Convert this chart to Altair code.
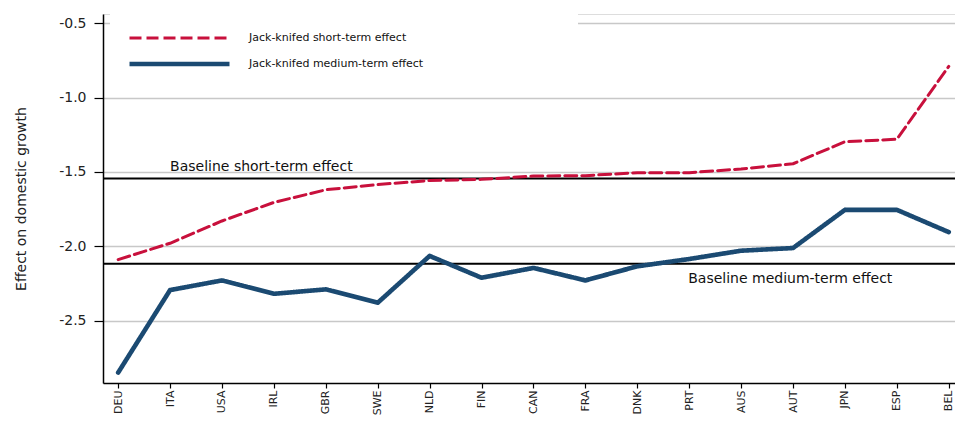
import altair as alt
import pandas as pd

countries = ["DEU", "ITA", "USA", "IRL", "GBR", "SWE", "NLD", "FIN", "CAN",
             "FRA", "DNK", "PRT", "AUS", "AUT", "JPN", "ESP", "BEL"]
short_term = [-2.09, -1.98, -1.83, -1.705, -1.62, -1.585, -1.558, -1.55, -1.528,
              -1.525, -1.505, -1.505, -1.48, -1.445, -1.297, -1.28, -0.79]
medium_term = [-2.85, -2.295, -2.23, -2.32, -2.29, -2.38, -2.065, -2.212, -2.146,
               -2.23, -2.135, -2.086, -2.03, -2.012, -1.755, -1.755, -1.905]
series_names = ["Jack-knifed short-term effect", "Jack-knifed medium-term effect"]
baseline_values = [-1.545, -2.117]
baseline_labels = ["Baseline short-term effect", "Baseline medium-term effect"]
baseline_label_at = [1, 11]  # index of country where each label starts
y_ticks = [-0.5, -1.0, -1.5, -2.0, -2.5]

RED = "#c8103c"
BLUE = "#1b4a72"
FONT = "DejaVu Sans"

rows = []
for i, c in enumerate(countries):
    rows.append({"idx": i, "country": c, "series": series_names[0], "value": short_term[i]})
    rows.append({"idx": i, "country": c, "series": series_names[1], "value": medium_term[i]})
df = pd.DataFrame(rows)

base_short = pd.DataFrame({"y": [baseline_values[0]], "x": [baseline_label_at[0]],
                           "label": [baseline_labels[0]]})
base_medium = pd.DataFrame({"y": [baseline_values[1]], "x": [baseline_label_at[1]],
                            "label": [baseline_labels[1]]})

js_countries = "[" + ",".join("'" + c + "'" for c in countries) + "]"

x_scale = alt.Scale(domain=[-0.292, 16.12], nice=False, zero=False)
y_scale = alt.Scale(domain=[-2.92, -0.4376], nice=False, zero=False)

x_axis = alt.Axis(values=list(range(len(countries))), labelExpr=js_countries + "[datum.value]",
                  labelAngle=270, labelFont=FONT, labelFontSize=11, labelColor="#222",
                  tickSize=5, tickColor="black", tickWidth=1.2, labelPadding=2,
                  domainColor="black", domainWidth=1.5, grid=False, title=None)
y_axis = alt.Axis(values=y_ticks, labelExpr="replace(format(datum.value, '.1f'), '\u2212', '-')",
                  labelFont=FONT, labelFontSize=14, labelColor="#222",
                  tickSize=9, tickColor="black", tickWidth=1.2, labelPadding=8,
                  domainColor="black", domainWidth=1.5,
                  grid=True, gridColor="#c8c8c8", gridWidth=1.6,
                  title="Effect on domestic growth", titleFont=FONT, titleFontSize=14,
                  titleFontWeight="normal", titleColor="#222", titlePadding=30)

legend = alt.Legend(orient="none", legendX=7, legendY=0, title=None,
                    symbolType="stroke", symbolSize=10000, clipHeight=14,
                    rowPadding=12, padding=17, fillColor="white",
                    labelFont=FONT, labelFontSize=11, labelColor="#111",
                    labelOffset=17, labelLimit=0,
                    labelExpr="pad(datum.label, 67, '\u00a0') + '\u2800'")

grid_layer = alt.Chart(df).mark_point(opacity=0).encode(
    x=alt.X("idx:Q", scale=x_scale, axis=x_axis),
    y=alt.Y("value:Q", scale=y_scale, axis=y_axis),
)

rule_short = alt.Chart(base_short).mark_rule(color="black", strokeWidth=2).encode(
    y=alt.Y("y:Q", scale=y_scale))
rule_medium = alt.Chart(base_medium).mark_rule(color="black", strokeWidth=2).encode(
    y=alt.Y("y:Q", scale=y_scale))

text_short = alt.Chart(base_short).mark_text(align="left", baseline="alphabetic", dy=-8,
                                             font=FONT, fontSize=14, color="#111").encode(
    x=alt.X("x:Q", scale=x_scale), y=alt.Y("y:Q", scale=y_scale), text="label:N")
text_medium = alt.Chart(base_medium).mark_text(align="left", baseline="alphabetic", dy=19, dx=-1,
                                               font=FONT, fontSize=14, color="#111").encode(
    x=alt.X("x:Q", scale=x_scale), y=alt.Y("y:Q", scale=y_scale), text="label:N")

lines = alt.Chart(df).mark_line(strokeCap="round", strokeJoin="round").encode(
    x=alt.X("idx:Q", scale=x_scale, axis=x_axis),
    y=alt.Y("value:Q", scale=y_scale, axis=y_axis),
    color=alt.Color("series:N", scale=alt.Scale(domain=series_names, range=[RED, BLUE]),
                    legend=legend),
    strokeDash=alt.StrokeDash("series:N", scale=alt.Scale(domain=series_names,
                                                          range=[[12, 5], [1, 0]]),
                              legend=legend),
    strokeWidth=alt.StrokeWidth("series:N", scale=alt.Scale(domain=series_names,
                                                            range=[3, 4.6]),
                                legend=legend),
    detail="series:N",
)

chart = alt.layer(grid_layer, rule_short, rule_medium, text_short, text_medium, lines).properties(
    width=852, height=369,
    autosize=alt.AutoSizeParams(type="none"),
    padding={"left": 95, "top": 6, "right": 0, "bottom": 32},
).configure_view(strokeWidth=0).configure(background="white")

chart.save("out.html", embed_options={"renderer": "svg", "actions": False})
